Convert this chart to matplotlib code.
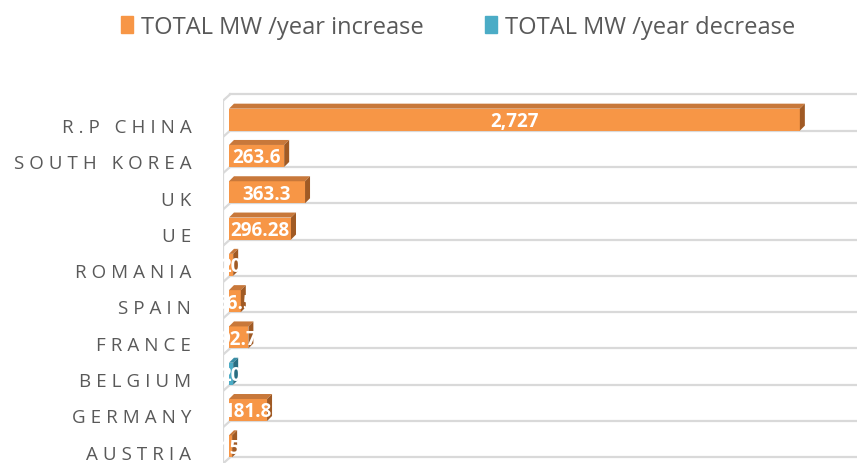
# 3D-style horizontal bar chart, MW per year by country
import numpy as np
import matplotlib
matplotlib.use("Agg")
import matplotlib.pyplot as plt
from matplotlib.patches import Polygon

countries = ["R.P CHINA", "SOUTH KOREA", "UK", "UE", "ROMANIA",
             "SPAIN", "FRANCE", "BELGIUM", "GERMANY", "AUSTRIA"]
increase = [2727, 263.6, 363.3, 296.28, 20, 56.5, 92.7, 0, 181.8, 15]
decrease = [0, 0, 0, 0, 0, 0, 0, 20, 0, 0]
labels = ["2,727", "263.6", "363.3", "296.28", "20", "56.5", "92.7", "20", "181.8", "15"]
legend_names = ["TOTAL MW /year increase", "TOTAL MW /year decrease"]

c_inc = ("#F79646", "#C8783A", "#A05A24")   # front, top, side
c_dec = ("#4BACC6", "#3A8EA6", "#2A6E82")
grid_c = "#D9D9D9"

plt.rcParams["font.family"] = ["Open Sans", "DejaVu Sans"]

fig = plt.figure(figsize=(8.57, 4.64), dpi=100)
ax = fig.add_axes([222.7 / 857, 0, 1 - 222.7 / 857, 1 - 88 / 464])
ax.set_xlim(-30, 3000)
ax.set_ylim(9.31, -1.05)
ax.axis("off")

# pixel -> data factors
px_x = 3030 / (857 - 222.7)
px_y = 10.36 / (464 - 88)
dx, dy = 5 * px_x, 5 * px_y
h = 22 * px_y
off = 0.15

y = np.arange(len(countries))

# floor lines, wall
for yl in np.append(y[0] - 1, y) + h / 2 - off:
    ax.plot([5, 3000], [yl, yl], color=grid_c, lw=1.6, zorder=1)
    ax.plot([-28, 5], [yl + 0.17, yl], color=grid_c, lw=1.6, zorder=1)
ax.plot([-28, -28], [y[0] - 1 + h / 2 - off + 0.17, 9.4], color=grid_c, lw=1.6, zorder=1)


def bar3d(val, yc, cols):
    if val <= 0:
        return
    top, bot = yc - h / 2, yc + h / 2
    ax.add_patch(Polygon([[0, top], [val, top], [val, bot], [0, bot]],
                         closed=True, facecolor=cols[0], edgecolor="none", zorder=3))
    ax.add_patch(Polygon([[0, top], [dx, top - dy], [val + dx, top - dy], [val, top]],
                         closed=True, facecolor=cols[1], edgecolor="none", zorder=3))
    ax.add_patch(Polygon([[val, top], [val + dx, top - dy], [val + dx, bot - dy], [val, bot]],
                         closed=True, facecolor=cols[2], edgecolor="none", zorder=3))


for i in range(len(countries)):
    yc = y[i] - off
    bar3d(increase[i], yc, c_inc)
    bar3d(decrease[i], yc, c_dec)
    v = max(increase[i], decrease[i])
    ax.text(v / 2, yc + 0.04, labels[i], color="white", fontsize=13.5, fontweight="bold",
            ha="center", va="center", zorder=5)
    ax.text(-180, y[i] + 0.05, "\u2009\u200a".join(countries[i]), color="#595959", fontsize=13.5,
            ha="right", va="center", zorder=5, clip_on=False)

handles = [plt.Rectangle((0, 0), 1, 1, color=c_inc[0]), plt.Rectangle((0, 0), 1, 1, color=c_dec[0])]
fig.legend(handles, legend_names, loc="center", bbox_to_anchor=(458 / 857, 1 - 28 / 464),
           ncol=2, frameon=False, handlelength=0.5, handleheight=0.75,
           handletextpad=0.35, columnspacing=2.6, labelcolor="#595959",
           prop={"family": ["Liberation Sans Narrow", "Open Sans", "DejaVu Sans"], "size": 17})

fig.savefig("out.png", dpi=100)
